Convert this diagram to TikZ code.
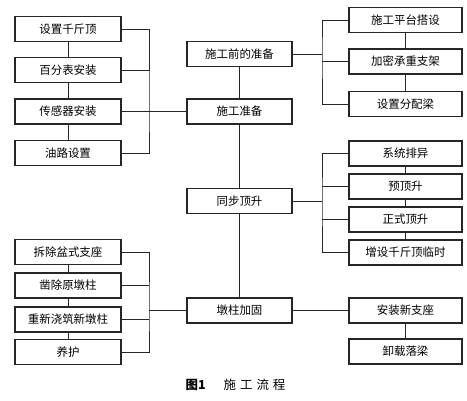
\documentclass[tikz,border=0pt]{standalone}
\usepackage{fontspec}
\setmainfont{Noto Sans CJK SC}
\usetikzlibrary{calc}

\tikzset{
  box/.style={draw=black!85,line width=1.1pt,minimum height=25bp,inner sep=0pt,
    font=\fontsize{11.5}{12}\selectfont},
  lbox/.style={box,minimum width=106bp},
  cbox/.style={box,minimum width=105bp},
  rbox/.style={box,minimum width=113bp},
  link/.style={draw=black!85,line width=0.8pt}
}

\begin{document}
\begin{tikzpicture}[x=1bp,y=-1bp]
\useasboundingbox (0,0) rectangle (467,400);
% left upper group
\node[lbox] (p1) at (68,29) {设置千斤顶};
\node[lbox] (p2) at (68,70) {百分表安装};
\node[lbox] (p3) at (68,111.5) {传感器安装};
\node[lbox] (p4) at (68,153) {油路设置};
% left lower group
\node[lbox] (q1) at (68,252) {拆除盆式支座};
\node[lbox] (q2) at (68,285.5) {凿除原墩柱};
\node[lbox] (q3) at (68,319.5) {重新浇筑新墩柱};
\node[lbox] (q4) at (68,352) {养护};
% main column
\node[cbox] (c1) at (239.5,54) {施工前的准备};
\node[cbox] (c2) at (239.5,111.5) {施工准备};
\node[cbox] (c3) at (239.5,201) {同步顶升};
\node[cbox] (c4) at (239.5,310.5) {墩柱加固};
% right groups
\node[rbox] (r1) at (405.5,20) {施工平台搭设};
\node[rbox] (r2) at (405.5,61.5) {加密承重支架};
\node[rbox] (r3) at (405.5,104) {设置分配梁};
\node[rbox] (s1) at (405.5,153.5) {系统排异};
\node[rbox] (s2) at (405.5,186.5) {预顶升};
\node[rbox] (s3) at (405.5,219.5) {正式顶升};
\node[rbox] (s4) at (405.5,252.5) {增设千斤顶临时};
\node[rbox] (t1) at (405.5,310.5) {安装新支座};
\node[rbox] (t2) at (405.5,351.5) {卸载落梁};
% caption
\node (cap) at (235.5,385) {\fontsize{12.5}{13}\selectfont\textbf{图1}\hspace{18bp}施\hspace{4bp}工\hspace{4bp}流\hspace{4bp}程};

% junction points
\coordinate (jl1) at (149,111.5);
\coordinate (jl2) at (149,310.5);
\coordinate (jr1) at (322,54);
\coordinate (jr2) at (322,201);

% chains
\draw[link] (p1) -- (p2) -- (p3) -- (p4);
\draw[link] (q1) -- (q2) -- (q3) -- (q4);
\draw[link] (c1) -- (c2) -- (c3) -- (c4);
\draw[link] (r1) -- (r2) -- (r3);
\draw[link] (s1) -- (s2) -- (s3) -- (s4);
\draw[link] (t1) -- (t2);

% brackets
\draw[link] (p1.east) -| (jl1) |- (p4.east);
\draw[link] (p2.east) -- (p2.east -| jl1);
\draw[link] (p3.east) -- (jl1) -- (c2.west);
\draw[link] (q1.east) -| (jl2) |- (q4.east);
\draw[link] (q2.east) -- (q2.east -| jl2);
\draw[link] (q3.east) -- (q3.east -| jl2);
\draw[link] (jl2) -- (c4.west);
\draw[link] (r1.west) -| (jr1) |- (r3.west);
\draw[link] (r2.west) -- (r2.west -| jr1);
\draw[link] (c1.east) -- (jr1);
\draw[link] (s1.west) -| (jr2) |- (s4.west);
\draw[link] (s2.west) -- (s2.west -| jr2);
\draw[link] (s3.west) -- (s3.west -| jr2);
\draw[link] (c3.east) -- (jr2);
\draw[link] (c4.east) -- (t1.west);
\end{tikzpicture}
\end{document}
